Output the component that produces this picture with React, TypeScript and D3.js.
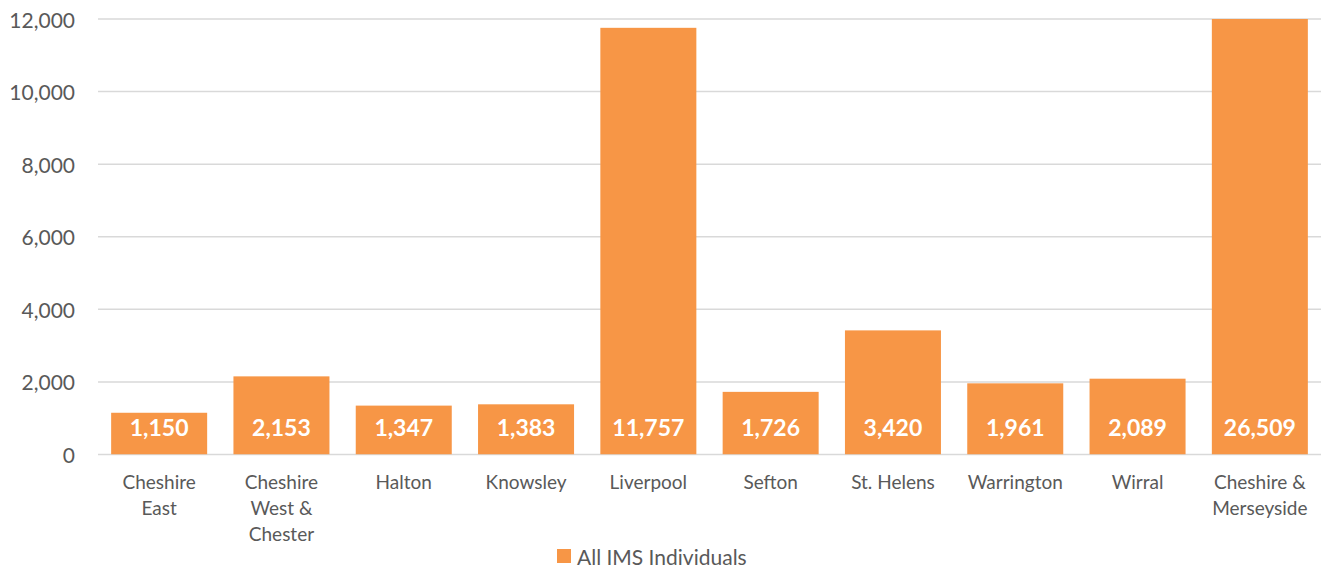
import React from "react";
import * as d3 from "d3";

const categories: string[][] = [
  ["Cheshire", "East"],
  ["Cheshire", "West &", "Chester"],
  ["Halton"],
  ["Knowsley"],
  ["Liverpool"],
  ["Sefton"],
  ["St. Helens"],
  ["Warrington"],
  ["Wirral"],
  ["Cheshire &", "Merseyside"],
];
const values: number[] = [1150, 2153, 1347, 1383, 11757, 1726, 3420, 1961, 2089, 26509];
const yTicks: number[] = [0, 2000, 4000, 6000, 8000, 10000, 12000];
const seriesName = "All IMS Individuals";

const W = 1322;
const H = 569;
const FONT = "Lato, 'Open Sans', sans-serif";
const BAR = "#F79646";
const TEXT = "#595959";

export default function App() {
  const x = d3
    .scaleBand<number>()
    .domain(values.map((_, i) => i))
    .range([98, 1321])
    .paddingInner(0.215)
    .paddingOuter(0.1075);
  const y = d3.scaleLinear().domain([0, 12000]).range([454.5, 19]);
  const fmt = d3.format(",");

  return (
    <svg
      width={W}
      height={H}
      style={{ position: "absolute", left: 0, top: 0, background: "#fff" }}
      fontFamily={FONT}
    >
      <defs>
        <clipPath id="plot">
          <rect x={98} y={y(12000)} width={1223} height={y(0) - y(12000)} />
        </clipPath>
      </defs>
      {yTicks.map((t) => (
        <g key={t}>
          <line x1={98} x2={1321} y1={y(t)} y2={y(t)} stroke="#D9D9D9" strokeWidth={1.5} />
          <text
            x={75}
            y={y(t)}
            textAnchor="end"
            dominantBaseline="central"
            fontSize={21}
            fill={TEXT}
          >
            {fmt(t)}
          </text>
        </g>
      ))}
      <g clipPath="url(#plot)">
        {values.map((v, i) => (
          <rect
            key={i}
            x={x(i)}
            y={y(Math.min(v, 12000))}
            width={x.bandwidth()}
            height={y(0) - y(Math.min(v, 12000))}
            fill={BAR}
          />
        ))}
      </g>
      {values.map((v, i) => (
        <text
          key={"l" + i}
          x={(x(i) as number) + x.bandwidth() / 2}
          y={427}
          textAnchor="middle"
          dominantBaseline="central"
          fontSize={23}
          fontWeight={700}
          fill="#fff"
        >
          {fmt(v)}
        </text>
      ))}
      {categories.map((lines, i) => (
        <text
          key={"c" + i}
          x={(x(i) as number) + x.bandwidth() / 2}
          textAnchor="middle"
          fontSize={19}
          fill={TEXT}
        >
          {lines.map((ln, j) => (
            <tspan key={j} x={(x(i) as number) + x.bandwidth() / 2} y={481 + j * 26} dominantBaseline="central">
              {ln}
            </tspan>
          ))}
        </text>
      ))}
      <g>
        <rect x={557} y={549} width={14} height={14} fill={BAR} />
        <text x={577} y={556} dominantBaseline="central" fontSize={21} fill={TEXT}>
          {seriesName}
        </text>
      </g>
    </svg>
  );
}
